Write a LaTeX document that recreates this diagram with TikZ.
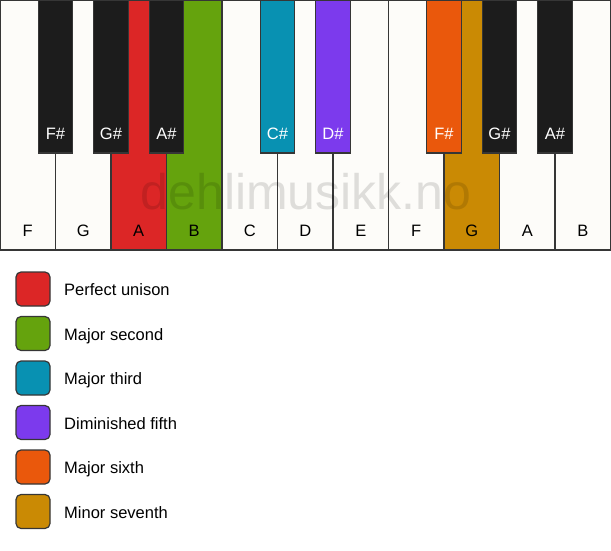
\documentclass[tikz,border=0pt]{standalone}
\usepackage{fontspec}
\setmainfont{Liberation Sans}
\definecolor{keywhite}{HTML}{FDFCF9}
\definecolor{keyblack}{HTML}{1C1C1C}
\definecolor{edge}{HTML}{363636}
\definecolor{cred}{HTML}{DC2626}
\definecolor{cgreen}{HTML}{65A30D}
\definecolor{ccyan}{HTML}{0891B2}
\definecolor{cviolet}{HTML}{7C3AED}
\definecolor{corange}{HTML}{EA580C}
\definecolor{cgold}{HTML}{CA8A04}
\begin{document}
\begin{tikzpicture}[x=1pt,y=-1pt,
  whitekey/.style={draw=edge,line width=1.2pt,fill=keywhite,minimum width=55.5pt,minimum height=250pt,inner sep=0pt,outer sep=0pt},
  blackkey/.style={draw=edge,line width=1.2pt,fill=keyblack,minimum width=34.5pt,minimum height=153pt,inner sep=0pt,outer sep=0pt},
  wlabel/.style={font=\fontsize{16.5}{16.5}\selectfont,text=black,inner sep=0pt,anchor=base},
  blabel/.style={font=\fontsize{16.5}{16.5}\selectfont,text=white,inner sep=0pt,anchor=base},
  swatch/.style={draw=edge,line width=1.2pt,rounded corners=5pt,minimum width=34pt,minimum height=34pt,inner sep=0pt},
  legtext/.style={font=\fontsize{16.5}{16.5}\selectfont,text=black,anchor=base west,inner sep=0pt}]
\useasboundingbox (0,0) rectangle (611,550);
% white keys
\foreach \i/\n/\c in {0/F/keywhite,1/G/keywhite,2/A/cred,3/B/cgreen,4/C/keywhite,5/D/keywhite,6/E/keywhite,7/F/keywhite,8/G/cgold,9/A/keywhite,10/B/keywhite}{
  \node[whitekey,fill=\c] (w\i) at ({55.5*\i+27.75},125) {};
  \node[wlabel] (wl\i) at ({55.5*\i+27.75},236) {\n};
}
% black keys
\foreach \i/\n/\c in {1/F\#/keyblack,2/G\#/keyblack,3/A\#/keyblack,5/C\#/ccyan,6/D\#/cviolet,8/F\#/corange,9/G\#/keyblack,10/A\#/keyblack}{
  \node[blackkey,fill=\c] (b\i) at ({55.5*\i},76.5) {};
  \node[blabel] (bl\i) at ({55.5*\i},139) {\n};
}
% watermark
\node[font=\fontsize{50}{50}\selectfont,text=black,text opacity=0.12,anchor=base,inner sep=0pt] (wm) at (306,209) {dehlimusikk.no};
% legend
\foreach \k/\c/\t in {0/cred/Perfect unison,1/cgreen/Major second,2/ccyan/Major third,3/cviolet/Diminished fifth,4/corange/Major sixth,5/cgold/Minor seventh}{
  \node[swatch,fill=\c] (s\k) at (33,{289+44.5*\k}) {};
  \node[legtext] (t\k) at (64,{295.5+44.5*\k}) {\t};
}
\end{tikzpicture}
\end{document}
